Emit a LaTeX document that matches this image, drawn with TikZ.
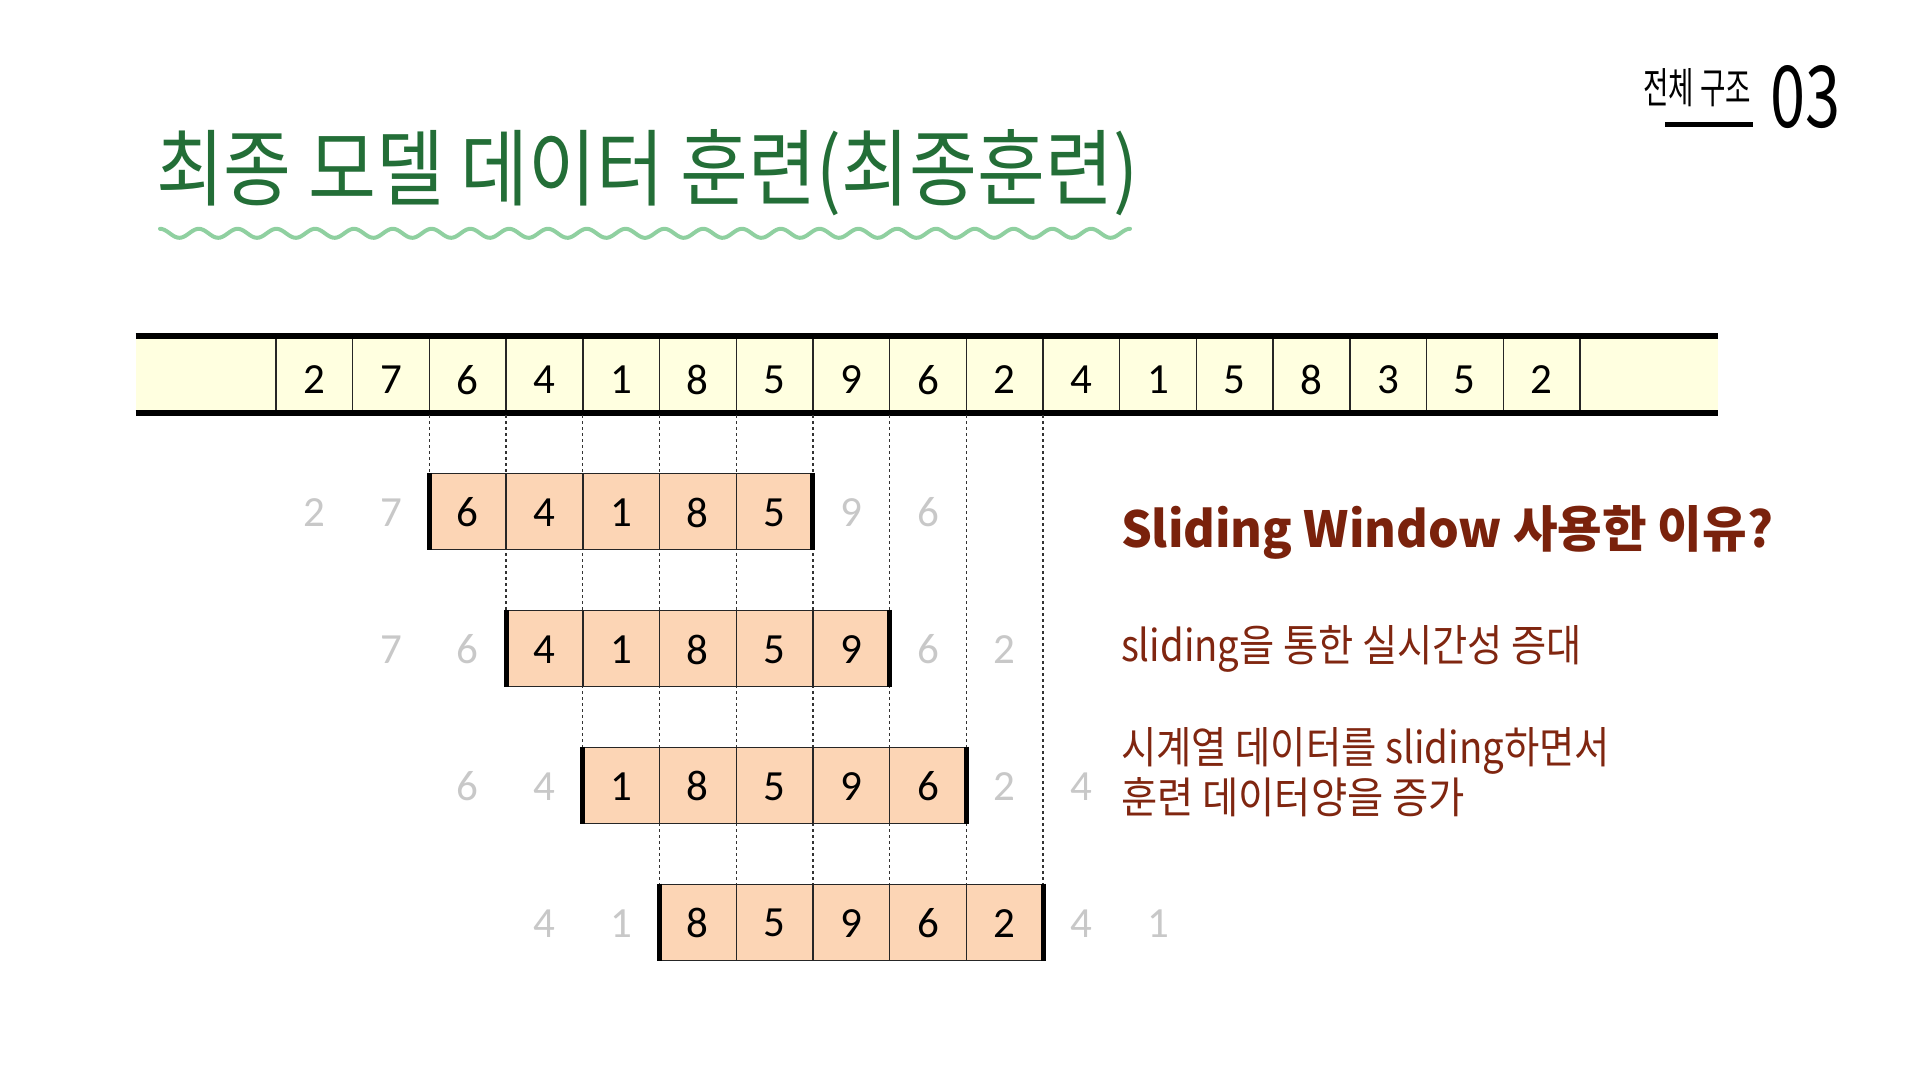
\documentclass[tikz,border=0pt]{standalone}
\usepackage{fontspec}
\usepackage{graphicx}
\setmainfont{Carlito}
\newfontfamily\kr{Noto Sans CJK KR}
\definecolor{titlegreen}{RGB}{35,110,55}
\definecolor{wavegreen}{RGB}{143,208,160}
\definecolor{barfill}{RGB}{255,255,224}
\definecolor{peach}{RGB}{252,213,181}
\definecolor{greynum}{RGB}{200,200,200}
\definecolor{brown}{RGB}{122,34,12}
\definecolor{brownbody}{RGB}{128,38,16}
\begin{document}
\begin{tikzpicture}[x=1pt,y=-1pt,
  txt/.style={inner sep=0pt,outer sep=0pt,anchor=base west},
  barnum/.style={inner sep=0pt,font=\fontsize{43}{43}\selectfont,text=black},
  winnum/.style={inner sep=0pt,font=\fontsize{43}{43}\selectfont,text=black},
  ghostnum/.style={inner sep=0pt,font=\fontsize{43}{43}\selectfont,text=greynum},
  thickrule/.style={line width=5.5pt,black},
  thinrule/.style={line width=1.4pt,black!85},
  sideedge/.style={line width=5pt,black},
  dashline/.style={line width=1.3pt,black!80,dash pattern=on 3pt off 3pt},
  wave/.style={line width=4pt,wavegreen,line cap=round}
]
\useasboundingbox[fill=white] (0,0) rectangle (1920,1080);
\def\cw{76.7}
\def\xo{276}
\def\seq{{2,7,6,4,1,8,5,9,6,2,4,1,5,8,3,5,2}}

% title
\node[txt,text=titlegreen] (title) at (156,199)
  {\resizebox{982pt}{70pt}{\kr\fontsize{66}{66}\selectfont 최종 모델 데이터 훈련(최종훈련)}};
\draw[wave] plot[domain=160:1130,samples=500,smooth] (\x,{233.3-4.5*cos((\x-160)*9.2784)});

% top right label
\node[txt,text=black] (sect) at (1643,103)
  {\resizebox{108pt}{35pt}{\kr 전체 구조}};
\coordinate (ulA) at (1665,124.5);
\coordinate (ulB) at (1753,124.5);
\draw[line width=5.6pt,black] (ulA) -- (ulB);
\node[txt,text=black] (num) at (1770,127)
  {\resizebox{70pt}{62pt}{\kr 03}};

% top bar
\fill[barfill] (135.5,336) rectangle (1718,413);
\coordinate (barTL) at (135.5,336);
\coordinate (barTR) at (1718,336);
\coordinate (barBL) at (135.5,413);
\coordinate (barBR) at (1718,413);
\foreach \k in {0,...,17}{
  \draw[thinrule] ({\xo+\cw*\k},336) -- ({\xo+\cw*\k},413);
}
\draw[thickrule] (barTL) -- (barTR);
\draw[thickrule] (barBL) -- (barBR);
\foreach \v [count=\i from 0] in {2,7,6,4,1,8,5,9,6,2,4,1,5,8,3,5,2}{
  \node[barnum] (b\i) at ({\xo+\cw*(\i+0.5)},380) {\v};
}

% dashed guide lines
\foreach \k in {2,...,10}{
  \pgfmathtruncatemacro\rr{min(3,\k-2)}
  \coordinate (dtop\k) at ({\xo+\cw*\k},415);
  \coordinate (dbot\k) at ({\xo+\cw*\k},{473.6+136.9*\rr});
  \draw[dashline] (dtop\k) -- (dbot\k);
}

% window rows
\foreach \r in {0,...,3}{
  \pgfmathsetmacro\tt{473.6+136.9*\r}
  \pgfmathsetmacro\bb{\tt+76}
  \pgfmathsetmacro\xl{\xo+\cw*(\r+2)}
  \pgfmathsetmacro\xr{\xo+\cw*(\r+7)}
  \fill[peach] (\xl,\tt) rectangle (\xr,\bb);
  \foreach \j in {1,...,4}{
    \draw[thinrule] ({\xl+\cw*\j},\tt) -- ({\xl+\cw*\j},\bb);
  }
  \draw[thinrule] (\xl,\tt) -- (\xr,\tt);
  \draw[thinrule] (\xl,\bb) -- (\xr,\bb);
  \draw[sideedge] (\xl,{\tt-0.7}) -- (\xl,{\bb+0.7});
  \draw[sideedge] (\xr,{\tt-0.7}) -- (\xr,{\bb+0.7});
  \foreach \j in {0,...,8}{
    \pgfmathtruncatemacro\c{\r+\j}
    \pgfmathtruncatemacro\val{\seq[\c]}
    \ifnum\j<2
      \node[ghostnum] (w\r-\j) at ({\xo+\cw*(\c+0.5)},{\tt+39}) {\val};
    \else\ifnum\j>6
      \node[ghostnum] (w\r-\j) at ({\xo+\cw*(\c+0.5)},{\tt+39}) {\val};
    \else
      \node[winnum] (w\r-\j) at ({\xo+\cw*(\c+0.5)},{\tt+39}) {\val};
    \fi\fi
  }
}

% right-hand text
\node[txt,text=brown] (head) at (1121,547)
  {\resizebox{652pt}{42pt}{\kr\bfseries Sliding Window 사용한 이유?}};
\node[txt,text=brownbody] (l1) at (1121,661)
  {\resizebox{461pt}{36pt}{\kr sliding을 통한 실시간성 증대}};
\node[txt,text=brownbody] (l2) at (1121,763)
  {\resizebox{489pt}{36pt}{\kr 시계열 데이터를 sliding하면서}};
\node[txt,text=brownbody] (l3) at (1121,813)
  {\resizebox{344pt}{36pt}{\kr 훈련 데이터양을 증가}};
\end{tikzpicture}
\end{document}
